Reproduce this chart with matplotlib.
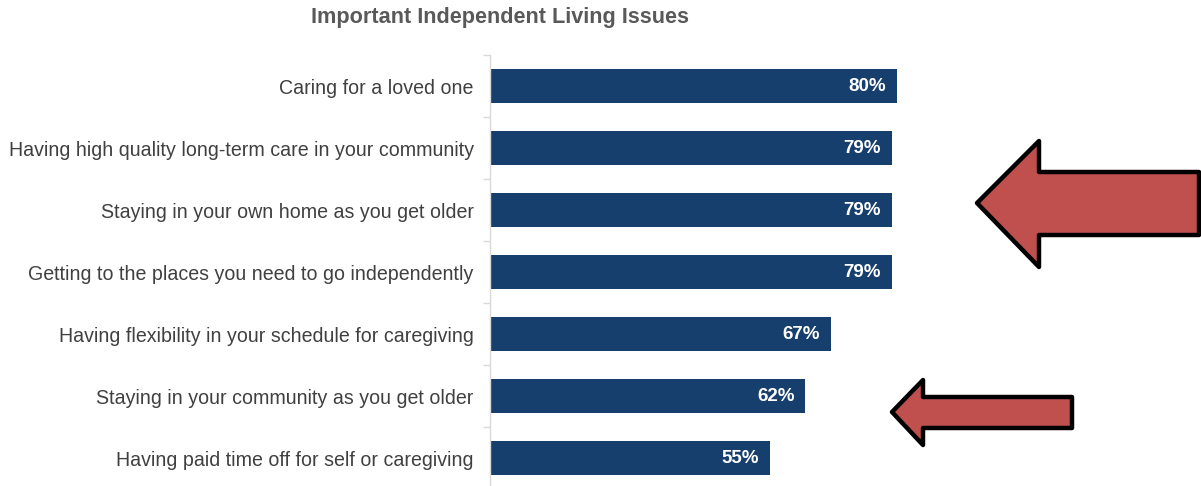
import matplotlib
matplotlib.use('Agg')
import matplotlib.pyplot as plt
from matplotlib.patches import Polygon

# Chart data
issues = [
    'Caring for a loved one',
    'Having high quality long-term care in your community',
    'Staying in your own home as you get older',
    'Getting to the places you need to go independently',
    'Having flexibility in your schedule for caregiving',
    'Staying in your community as you get older',
    'Having paid time off for self or caregiving',
]
shares = [80, 79, 79, 79, 67, 62, 55]
value_labels = ['80%', '79%', '79%', '79%', '67%', '62%', '55%']

W, H = 1201, 486
plt.rcParams['font.family'] = ['Liberation Sans', 'DejaVu Sans']

fig = plt.figure(figsize=(W / 100, H / 100), dpi=100)

# axes placed in pixels: spine at x=490, slots from y=55 down to y=489
left_px, right_px, top_px, bottom_px = 490, 1201, 55, 489
ax = fig.add_axes([left_px / W, 1 - bottom_px / H,
                   (right_px - left_px) / W, (bottom_px - top_px) / H])
xmax = 80 * (right_px - left_px) / 406.0
ax.set_xlim(0, xmax)
ax.set_ylim(len(issues) - 0.5, -0.5)

ypos = list(range(len(issues)))
ax.barh(ypos, shares, height=0.54, color='#173f6d', left=0.15)

for y, v, lab in zip(ypos, shares, value_labels):
    ax.text(v - 2.0, y, lab, ha='right', va='center', color='white',
            fontsize=13.5, fontweight='bold')

ax.set_yticks(ypos)
ax.set_yticklabels(issues, fontsize=14.1, color='#404040')
ax.set_yticks([i + 0.5 for i in range(-1, len(issues))], minor=True)
ax.tick_params(axis='y', which='major', length=0, pad=11.7)
ax.tick_params(axis='y', which='minor', length=5, color='#d9d9d9', width=1)
ax.set_xticks([])
for side in ['top', 'right', 'bottom']:
    ax.spines[side].set_visible(False)
ax.spines['left'].set_color('#d9d9d9')
ax.spines['left'].set_linewidth(1)
ax.patch.set_alpha(0)

fig.text(500 / W, 1 - 18 / H, 'Important Independent Living Issues',
         ha='center', va='center', fontsize=15.6, fontweight='bold',
         color='#595959')

# overlay in pixel coordinates for the call-out arrows
ov = fig.add_axes([0, 0, 1, 1])
ov.set_xlim(0, W)
ov.set_ylim(H, 0)
ov.axis('off')
ov.patch.set_alpha(0)

big_arrow = [(977, 203), (1039, 141), (1039, 172), (1199, 172),
             (1199, 235), (1039, 235), (1039, 267)]
small_arrow = [(892, 412), (923, 380), (923, 397), (1072, 397),
               (1072, 428), (923, 428), (923, 445)]
for pts in [big_arrow, small_arrow]:
    ov.add_patch(Polygon(pts, closed=True, facecolor='#c0504d',
                         edgecolor='black', linewidth=3.2, joinstyle='round'))

fig.savefig('out.png', dpi=100)
